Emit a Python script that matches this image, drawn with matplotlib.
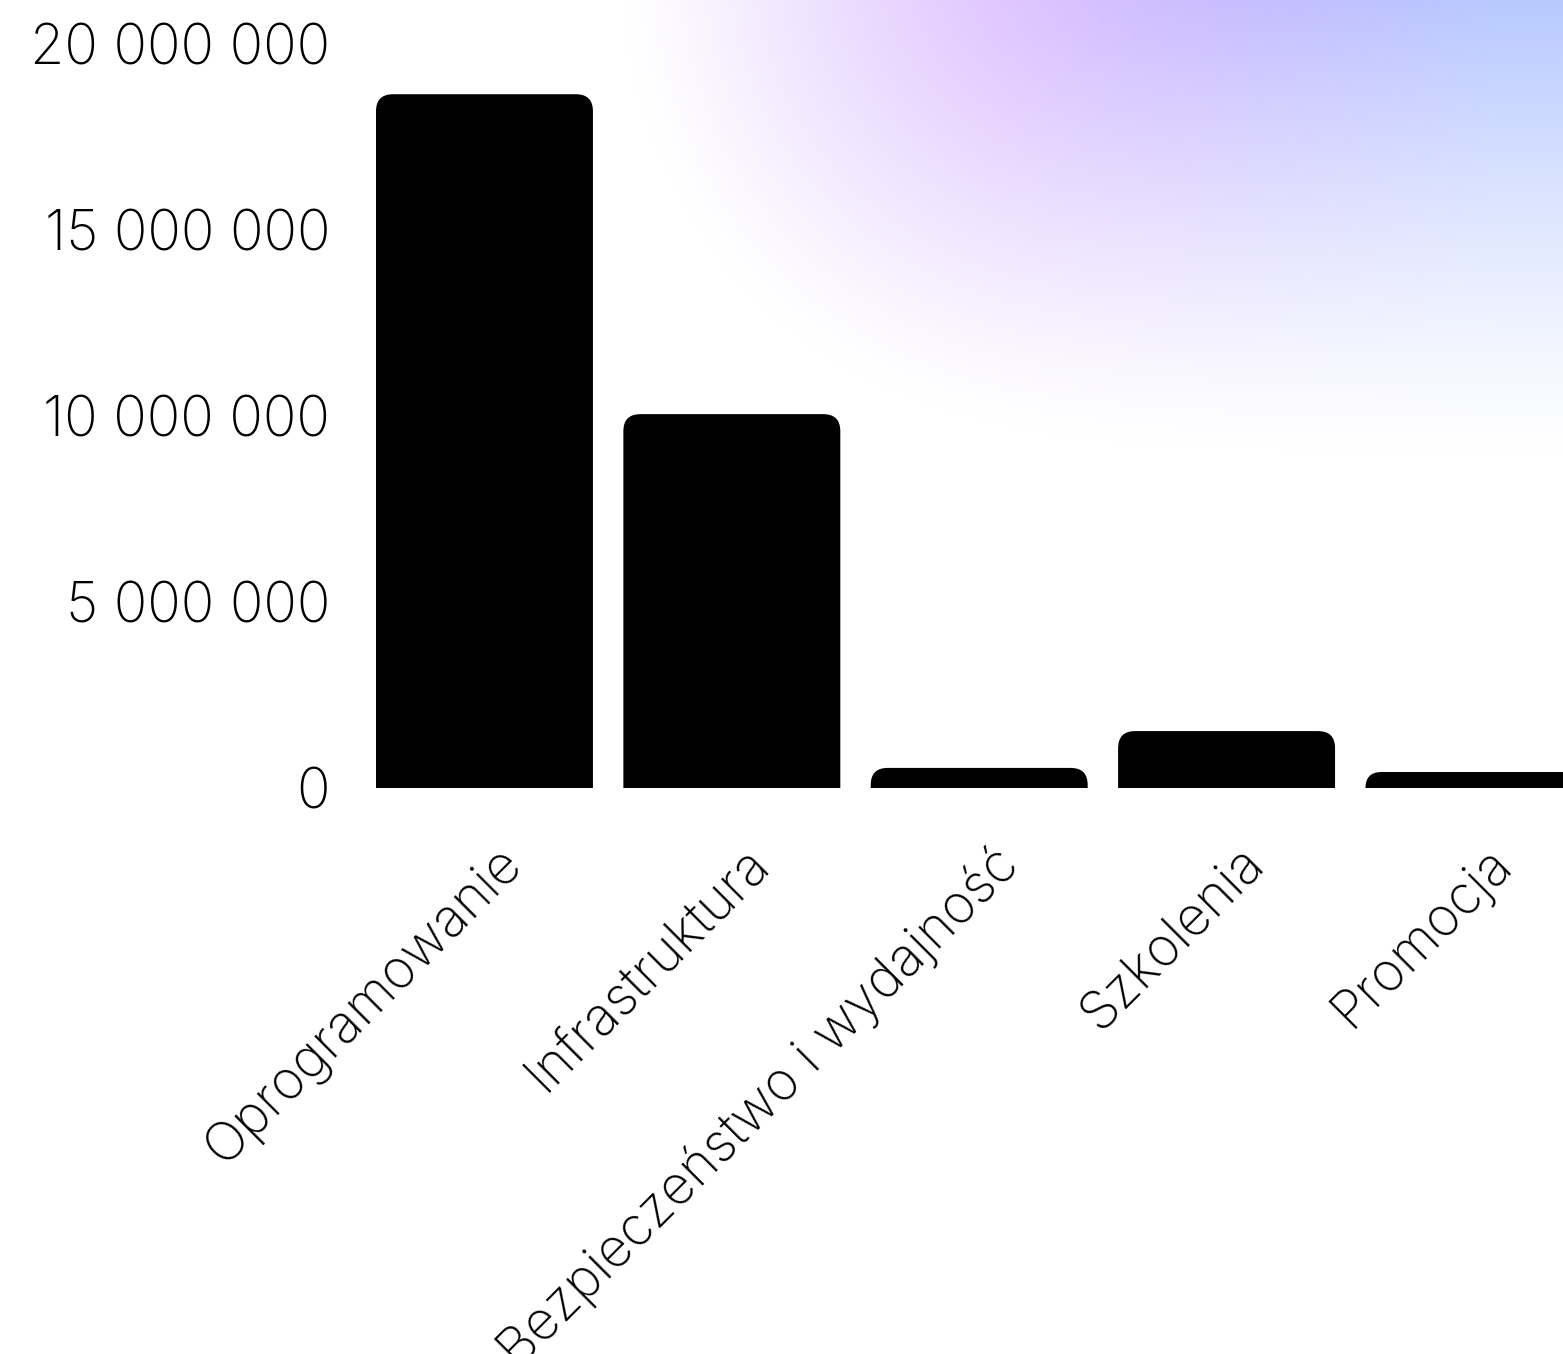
import numpy as np
import matplotlib
matplotlib.use("Agg")
import matplotlib.pyplot as plt
from matplotlib.patches import FancyBboxPatch
from matplotlib.ticker import FuncFormatter
import matplotlib.transforms as mtransforms

# dane
categories = ["Oprogramowanie", "Infrastruktura", "Bezpieczeństwo i wydajność",
              "Szkolenia", "Promocja"]
values = [18_650_000, 10_050_000, 540_000, 1_530_000, 430_000]
y_ticks = [0, 5_000_000, 10_000_000, 15_000_000, 20_000_000]

W, H, DPI = 1563, 1354, 100
FONT = ["Inter", "DejaVu Sans"]

plt.rcParams.update({
    "font.family": FONT,
    "font.weight": "light",
})

fig = plt.figure(figsize=(W / DPI, H / DPI), dpi=DPI)
fig.patch.set_facecolor("white")

# tło: poświata w prawym górnym rogu
bg = fig.add_axes([0, 0, 1, 1], zorder=-10)
xx, yy = np.meshgrid(np.arange(W), np.arange(H))
d = np.sqrt((np.abs(xx - 1500) / 880.0) ** 4 + ((yy + 50) / 500.0) ** 2)
alpha = 0.8 * np.clip(1 - d, 0, 1) ** 1.2
t = np.clip((xx - 1000) / 500.0, 0, 1)[..., None]
purple = np.array([0.75, 0.55, 1.00])
blue = np.array([0.60, 0.70, 1.00])
col = purple * (1 - t) + blue * t
img = np.ones((H, W, 3)) * (1 - alpha[..., None]) + col * alpha[..., None]
bg.imshow(img, aspect="auto", interpolation="bilinear")
bg.axis("off")

ax = fig.add_axes([376 / W, 1 - 788 / H, (W - 376) / W, (788 - 44) / H])
ax.set_facecolor("none")

x = np.arange(len(categories))
bar_w = 0.877
ax.set_xlim(-bar_w / 2, 4.36)
ax.set_ylim(0, 20_000_000)

# zaokrąglone słupki (tylko górne rogi – dół chowa się pod osią)
fig.canvas.draw()
px_x = ax.transData.transform([(1, 0)])[0][0] - ax.transData.transform([(0, 0)])[0][0]
px_y = ax.transData.transform([(0, 1e6)])[0][1] - ax.transData.transform([(0, 0)])[0][1]
r_px = 17
aspect = (1e6 / px_y) / (1 / px_x)
for xi, v in zip(x, values):
    h_px = v / 1e6 * px_y
    rr = min(r_px, h_px) / px_x
    below = rr * aspect
    p = FancyBboxPatch((xi - bar_w / 2, -below), bar_w, v + below,
                       boxstyle=f"round,pad=0,rounding_size={rr}",
                       mutation_aspect=aspect,
                       facecolor="black", edgecolor="none", clip_on=True)
    ax.add_patch(p)

for s in ax.spines.values():
    s.set_visible(False)

ax.set_yticks(y_ticks)
ax.yaxis.set_major_formatter(FuncFormatter(lambda v, _: f"{int(v):,}".replace(",", " ")))
ax.tick_params(axis="y", length=0, pad=33, labelsize=40)
ax.tick_params(axis="x", length=0, pad=0, labelsize=38.5)
ax.set_xticks(x)
ax.set_xticklabels(categories, rotation=45, ha="right", va="top",
                   rotation_mode="anchor")
offset = mtransforms.ScaledTranslation(12 / DPI, -50 / DPI, fig.dpi_scale_trans)
for lbl in ax.get_xticklabels():
    lbl.set_transform(lbl.get_transform() + offset)

fig.savefig("out.png", dpi=DPI)
